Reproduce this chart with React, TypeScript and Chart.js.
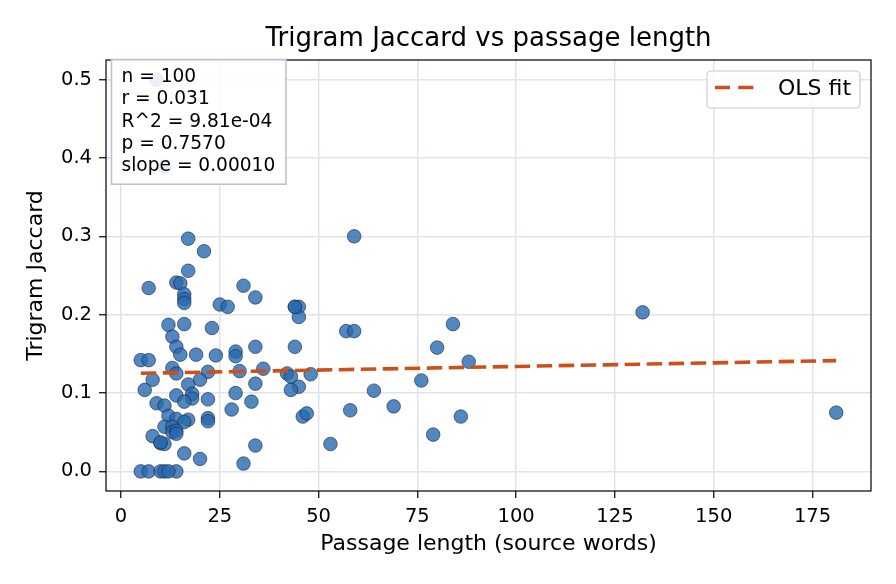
import React, { useEffect, useRef } from 'react';
import { Chart, registerables } from 'chart.js';

Chart.register(...registerables);

const chartTitle = 'Trigram Jaccard vs passage length';
const xAxisTitle = 'Passage length (source words)';
const yAxisTitle = 'Trigram Jaccard';

const passageLength = [
  9, 11, 17, 59, 21, 17, 7, 14, 15, 31,
  16, 16, 16, 25, 27, 34, 44, 45, 45, 132,
  12, 16, 23, 84, 57, 59, 13, 14, 34, 44,
  80, 15, 19, 24, 29, 29, 5, 7, 88, 13,
  14, 30, 36, 22, 42, 43, 48, 8, 20, 17,
  34, 76, 45, 43, 64, 6, 29, 14, 18, 18,
  22, 16, 9, 11, 33, 28, 58, 69, 181, 46,
  47, 86, 12, 14, 17, 16, 22, 22, 11, 13,
  13, 14, 14, 8, 10, 11, 16, 20, 34, 53,
  31, 79, 5, 7, 10, 11, 14, 12, 10, 44,
];

const trigramJaccard = [
  0.5, 0.389, 0.297, 0.3, 0.281, 0.256, 0.234, 0.241, 0.24, 0.237,
  0.226, 0.22, 0.215, 0.213, 0.21, 0.222, 0.21, 0.21, 0.197, 0.203,
  0.187, 0.188, 0.183, 0.188, 0.179, 0.179, 0.172, 0.159, 0.159, 0.159,
  0.158, 0.149, 0.149, 0.148, 0.153, 0.147, 0.142, 0.142, 0.14, 0.132,
  0.125, 0.128, 0.131, 0.127, 0.125, 0.121, 0.124, 0.117, 0.117, 0.111,
  0.112, 0.116, 0.108, 0.104, 0.103, 0.104, 0.1, 0.097, 0.099, 0.093,
  0.092, 0.089, 0.087, 0.084, 0.089, 0.079, 0.078, 0.083, 0.075, 0.07,
  0.074, 0.07, 0.071, 0.067, 0.066, 0.063, 0.068, 0.064, 0.057, 0.057,
  0.05, 0.052, 0.048, 0.045, 0.036, 0.035, 0.023, 0.016, 0.033, 0.035,
  0.01, 0.047, 0, 0, 0, 0, 0, 0, 0.037, 0.21,
];

const fitX = [5, 181];
const fitY = [0.1252, 0.1414];
const fitLabel = 'OLS fit';

const xTicks = [0, 25, 50, 75, 100, 125, 150, 175];
const yTicks = [0, 0.1, 0.2, 0.3, 0.4, 0.5];

const statsLines = ['n = 100', 'r = 0.031', 'R^2 = 9.81e-04', 'p = 0.7570', 'slope = 0.00010'];

const FONT = "'DejaVu Sans', 'Liberation Sans', sans-serif";
const FIT_COLOR = '#cc5119';
const DASH = [15.5, 6.5];

const overlayPlugin = {
  id: 'overlayPlugin',
  afterDraw(chart: any) {
    const { ctx, chartArea: a } = chart;
    ctx.save();
    // title, centred over the plot area
    ctx.fillStyle = '#000';
    ctx.font = `26px ${FONT}`;
    ctx.textAlign = 'center';
    ctx.textBaseline = 'middle';
    ctx.fillText(chartTitle, (a.left + a.right) / 2, a.top - 21);

    // axes frame
    ctx.strokeStyle = '#000';
    ctx.lineWidth = 1.2;
    ctx.setLineDash([]);
    ctx.strokeRect(a.left, a.top, a.right - a.left, a.bottom - a.top);

    // stats box
    const bx = a.left + 5.5;
    const by = a.top - 0.5;
    const bw = 174.5;
    const bh = 124.7;
    ctx.fillStyle = 'rgba(255,255,255,0.88)';
    ctx.fillRect(bx, by, bw, bh);
    ctx.strokeStyle = '#b4c2d4';
    ctx.lineWidth = 1.5;
    ctx.strokeRect(bx, by, bw, bh);
    ctx.fillStyle = '#000';
    ctx.font = `18.6px ${FONT}`;
    ctx.textAlign = 'left';
    ctx.textBaseline = 'middle';
    statsLines.forEach((t, i) => {
      ctx.fillText(t, bx + 10, by + 18 + i * 22.1);
    });

    // legend
    const lw = 153;
    const lh = 37;
    const lx = a.right - 11 - lw;
    const ly = a.top + 11;
    const r = 4;
    ctx.beginPath();
    ctx.moveTo(lx + r, ly);
    ctx.lineTo(lx + lw - r, ly);
    ctx.arcTo(lx + lw, ly, lx + lw, ly + r, r);
    ctx.lineTo(lx + lw, ly + lh - r);
    ctx.arcTo(lx + lw, ly + lh, lx + lw - r, ly + lh, r);
    ctx.lineTo(lx + r, ly + lh);
    ctx.arcTo(lx, ly + lh, lx, ly + lh - r, r);
    ctx.lineTo(lx, ly + r);
    ctx.arcTo(lx, ly, lx + r, ly, r);
    ctx.closePath();
    ctx.fillStyle = 'rgba(255,255,255,0.8)';
    ctx.fill();
    ctx.strokeStyle = '#cccccc';
    ctx.lineWidth = 1.2;
    ctx.stroke();

    const ds = chart.data.datasets[0];
    ctx.beginPath();
    ctx.strokeStyle = ds.borderColor;
    ctx.lineWidth = ds.borderWidth;
    ctx.setLineDash([15, 8.3]);
    ctx.moveTo(lx + 8, ly + 16.5);
    ctx.lineTo(lx + 47, ly + 16.5);
    ctx.stroke();
    ctx.setLineDash([]);
    ctx.fillStyle = '#000';
    ctx.font = `22px ${FONT}`;
    ctx.textBaseline = 'middle';
    ctx.fillText(ds.label, lx + 71, ly + 18);
    ctx.restore();
  },
};

export default function App() {
  const canvasRef = useRef<HTMLCanvasElement | null>(null);

  useEffect(() => {
    document.body.style.margin = '0';
    const canvas = canvasRef.current;
    if (!canvas) return;

    const points = passageLength.map((x, i) => ({ x, y: trigramJaccard[i] }));
    const fit = fitX.map((x, i) => ({ x, y: fitY[i] }));

    const tickFont = { family: FONT, size: 19.5 };
    const titleFont = { family: FONT, size: 22 };

    const chart = new Chart(canvas, {
      type: 'scatter',
      data: {
        datasets: [
          {
            type: 'line',
            label: fitLabel,
            data: fit,
            borderColor: FIT_COLOR,
            borderWidth: 3.6,
            borderDash: DASH,
            pointRadius: 0,
            fill: false,
            order: 0,
          } as any,
          {
            type: 'scatter',
            label: 'points',
            data: points,
            backgroundColor: 'rgba(40,105,175,0.8)',
            borderColor: 'rgba(20,35,60,0.85)',
            borderWidth: 0.7,
            pointRadius: 6.8,
            pointHoverRadius: 6.8,
            order: 1,
          },
        ],
      },
      options: {
        responsive: false,
        animation: false,
        devicePixelRatio: 1,
        layout: { padding: { top: 60, left: 0, right: 25, bottom: 0 } },
        plugins: {
          legend: { display: false },
          tooltip: { enabled: false },
          title: { display: false },
        },
        scales: {
          x: {
            type: 'linear',
            min: -3.8,
            max: 189.8,
            afterFit: (s: any) => {
              s.height = 93;
            },
            afterBuildTicks: (s: any) => {
              s.ticks = xTicks.map((v) => ({ value: v }));
            },
            ticks: {
              color: '#000',
              font: tickFont,
              padding: 7,
              maxRotation: 0,
              autoSkip: false,
              callback: (v: any) => String(v),
            },
            grid: {
              color: '#dfe4ec',
              lineWidth: 1.5,
              tickColor: '#000',
              tickLength: 7,
              tickWidth: 1.2,
            },
            border: { display: false },
            title: {
              display: true,
              text: xAxisTitle,
              color: '#000',
              font: titleFont,
              padding: { top: 0, bottom: 26.8 },
            },
          },
          y: {
            type: 'linear',
            min: -0.025,
            max: 0.525,
            afterFit: (s: any) => {
              s.width = 106;
            },
            afterBuildTicks: (s: any) => {
              s.ticks = yTicks.map((v) => ({ value: v }));
            },
            ticks: {
              color: '#000',
              font: tickFont,
              padding: 7,
              autoSkip: false,
              callback: (v: any) => Number(v).toFixed(1),
            },
            grid: {
              color: '#dfe4ec',
              lineWidth: 1.5,
              tickColor: '#000',
              tickLength: 7,
              tickWidth: 1.2,
            },
            border: { display: false },
            title: {
              display: true,
              text: yAxisTitle,
              color: '#000',
              font: titleFont,
              padding: { top: 22.8, bottom: 0 },
            },
          },
        },
      },
      plugins: [overlayPlugin],
    });

    return () => {
      chart.destroy();
    };
  }, []);

  return (
    <div style={{ position: 'absolute', left: 0, top: 0, width: 896, height: 584, background: '#fff' }}>
      <canvas ref={canvasRef} width={896} height={584} style={{ display: 'block', width: 896, height: 584 }} />
    </div>
  );
}
